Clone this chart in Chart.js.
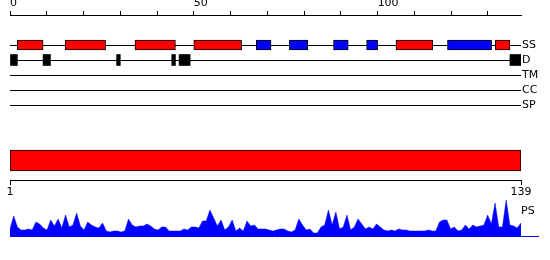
<!DOCTYPE html>
<html>
<head>
<meta charset="utf-8">
<script src="https://cdn.jsdelivr.net/npm/chart.js@4.4.0/dist/chart.umd.min.js"></script>
<style>
  html, body { margin: 0; padding: 0; background: #fff; }
  #wrap { position: relative; width: 550px; height: 260px; overflow: hidden; font-family: "DejaVu Sans", sans-serif; }
  .box { position: absolute; left: 0; width: 550px; }
  #psLabel { position: absolute; left: 521px; top: 204px; font-size: 11px; color: #000; }
</style>
</head>
<body>
<div id="wrap">
  <div class="box" style="top:0;height:115px"><canvas id="tracks"></canvas></div>
  <div class="box" style="top:140px;height:65px"><canvas id="seqbar"></canvas></div>
  <div class="box" style="top:190px;height:50px"><canvas id="ps"></canvas></div>
  <div id="psLabel">PS</div>
</div>
<script>
    'use strict';

    // sequence length and track names
    var seqLength = 139;
    var trackNames = ['', ' ', 'SS', 'D', 'TM', 'CC', 'SP'];

    // secondary structure: helices (red) and strands (blue), residue ranges
    var helices = [[2, 9], [15, 26], [34, 45], [50, 63], [105, 115], [132, 136]];
    var strands = [[67, 71], [76, 81], [88, 92], [97, 100], [119, 131]];
    // disordered regions
    var disorder = [[0, 2], [9, 11], [29, 30], [44, 45], [46, 49], [136, 139]];

    // PS profile, one value per residue 1..139
    var psValues = [
        7, 20, 9, 6, 6, 7, 6, 14, 12, 8,
        6, 16, 10, 17, 8, 21, 9, 11, 23, 10,
        6, 14, 11, 9, 8, 13, 5, 4, 5, 5,
        4, 5, 17, 11, 9, 10, 10, 12, 10, 7,
        6, 9, 9, 5, 5, 5, 5, 7, 6, 9,
        9, 8, 15, 15, 26, 18, 10, 16, 6, 9,
        16, 5, 8, 5, 15, 10, 11, 7, 7, 7,
        6, 5, 6, 7, 7, 5, 4, 6, 17, 11,
        6, 7, 3, 3, 9, 11, 26, 11, 24, 7,
        9, 21, 6, 9, 17, 12, 7, 9, 7, 12,
        9, 6, 5, 6, 5, 7, 6, 6, 5, 5,
        5, 5, 5, 6, 5, 5, 14, 16, 16, 7,
        9, 5, 6, 11, 7, 11, 9, 10, 11, 21,
        12, 33, 9, 9, 36, 11, 10, 8, 13
    ];

    var font = { family: 'DejaVu Sans', size: 11 };
    Chart.defaults.color = '#000';
    Chart.defaults.animation = false;
    Chart.defaults.responsive = true;
    Chart.defaults.maintainAspectRatio = false;
    Chart.defaults.plugins.legend.display = false;
    Chart.defaults.plugins.tooltip.enabled = false;

    function ranges(list, track) {
        return list.map(function (r) { return { x: r, y: track }; });
    }

    // feature tracks
    new Chart(document.getElementById('tracks'), {
        type: 'bar',
        data: {
            labels: trackNames,
            datasets: [
                { data: ranges(helices, 'SS'), backgroundColor: '#ff0000', borderColor: '#000', borderWidth: 1, borderSkipped: false, barThickness: 10, grouped: false },
                { data: ranges(strands, 'SS'), backgroundColor: '#0000ff', borderColor: '#000', borderWidth: 1, borderSkipped: false, barThickness: 10, grouped: false },
                { data: ranges(disorder, 'D'), backgroundColor: '#000', borderWidth: 0, barThickness: 11, grouped: false }
            ]
        },
        options: {
            indexAxis: 'y',
            layout: { padding: { left: 10, right: 0, top: 0, bottom: 10 } },
            scales: {
                x: {
                    type: 'linear', position: 'top', min: 0, max: seqLength,
                    afterBuildTicks: function (s) { s.ticks = s.ticks.filter(function (t) { return t.value % 10 === 0; }); },
                    afterFit: function (s) { s.height = 15; },
                    ticks: { stepSize: 10, align: 'start', padding: 1, font: font, maxRotation: 0, autoSkip: false,
                        callback: function (v) { return v % 50 === 0 ? v : ''; } },
                    grid: { drawOnChartArea: false, tickLength: 4, tickColor: '#000' },
                    border: { color: '#000', width: 1 }
                },
                y: {
                    type: 'category', position: 'right', offset: false,
                    afterFit: function (s) { s.width = 29; },
                    ticks: { padding: 1, font: font, autoSkip: false },
                    grid: { offset: false, drawTicks: false, lineWidth: 1,
                        color: function (c) { return c.tick && c.tick.label && c.tick.label.trim() ? '#000' : 'rgba(0,0,0,0)'; } },
                    border: { display: false }
                }
            }
        }
    });

    // full-length sequence bar
    new Chart(document.getElementById('seqbar'), {
        type: 'bar',
        data: {
            labels: ['seq'],
            datasets: [{ data: [[1, seqLength]], backgroundColor: '#ff0000', borderColor: '#000', borderWidth: 1, borderSkipped: false, barThickness: 21 }]
        },
        options: {
            indexAxis: 'y',
            layout: { padding: { left: 10, right: 29, top: 1, bottom: 0 } },
            scales: {
                x: {
                    type: 'linear', min: 1, max: seqLength,
                    afterBuildTicks: function (s) { s.ticks = [{ value: 1 }, { value: seqLength }]; },
                    afterFit: function (s) { s.height = 25; },
                    ticks: { font: font, padding: 1, maxRotation: 0, autoSkip: false },
                    grid: { drawOnChartArea: false, tickLength: 5, tickColor: '#000' },
                    border: { color: '#000', width: 1 }
                },
                y: { display: false }
            }
        }
    });

    // PS profile
    new Chart(document.getElementById('ps'), {
        type: 'line',
        data: {
            labels: psValues.map(function (v, i) { return i + 1; }),
            datasets: [{ data: psValues.map(function (v, i) { return { x: i + 1, y: v }; }),
                fill: 'origin', backgroundColor: '#0000ff', borderColor: '#0000ff', borderWidth: 0.5,
                pointRadius: 0, tension: 0 }]
        },
        options: {
            layout: { padding: { left: 10, right: 12, top: 6, bottom: 4 } },
            scales: {
                x: {
                    type: 'linear', min: 1, max: 143.6,
                    afterFit: function (s) { s.height = 0; },
                    ticks: { display: false },
                    grid: { display: false },
                    border: { color: '#0000ff', width: 1 }
                },
                y: { display: false, min: 0, max: 40 }
            }
        }
    });
</script>
</body>
</html>
